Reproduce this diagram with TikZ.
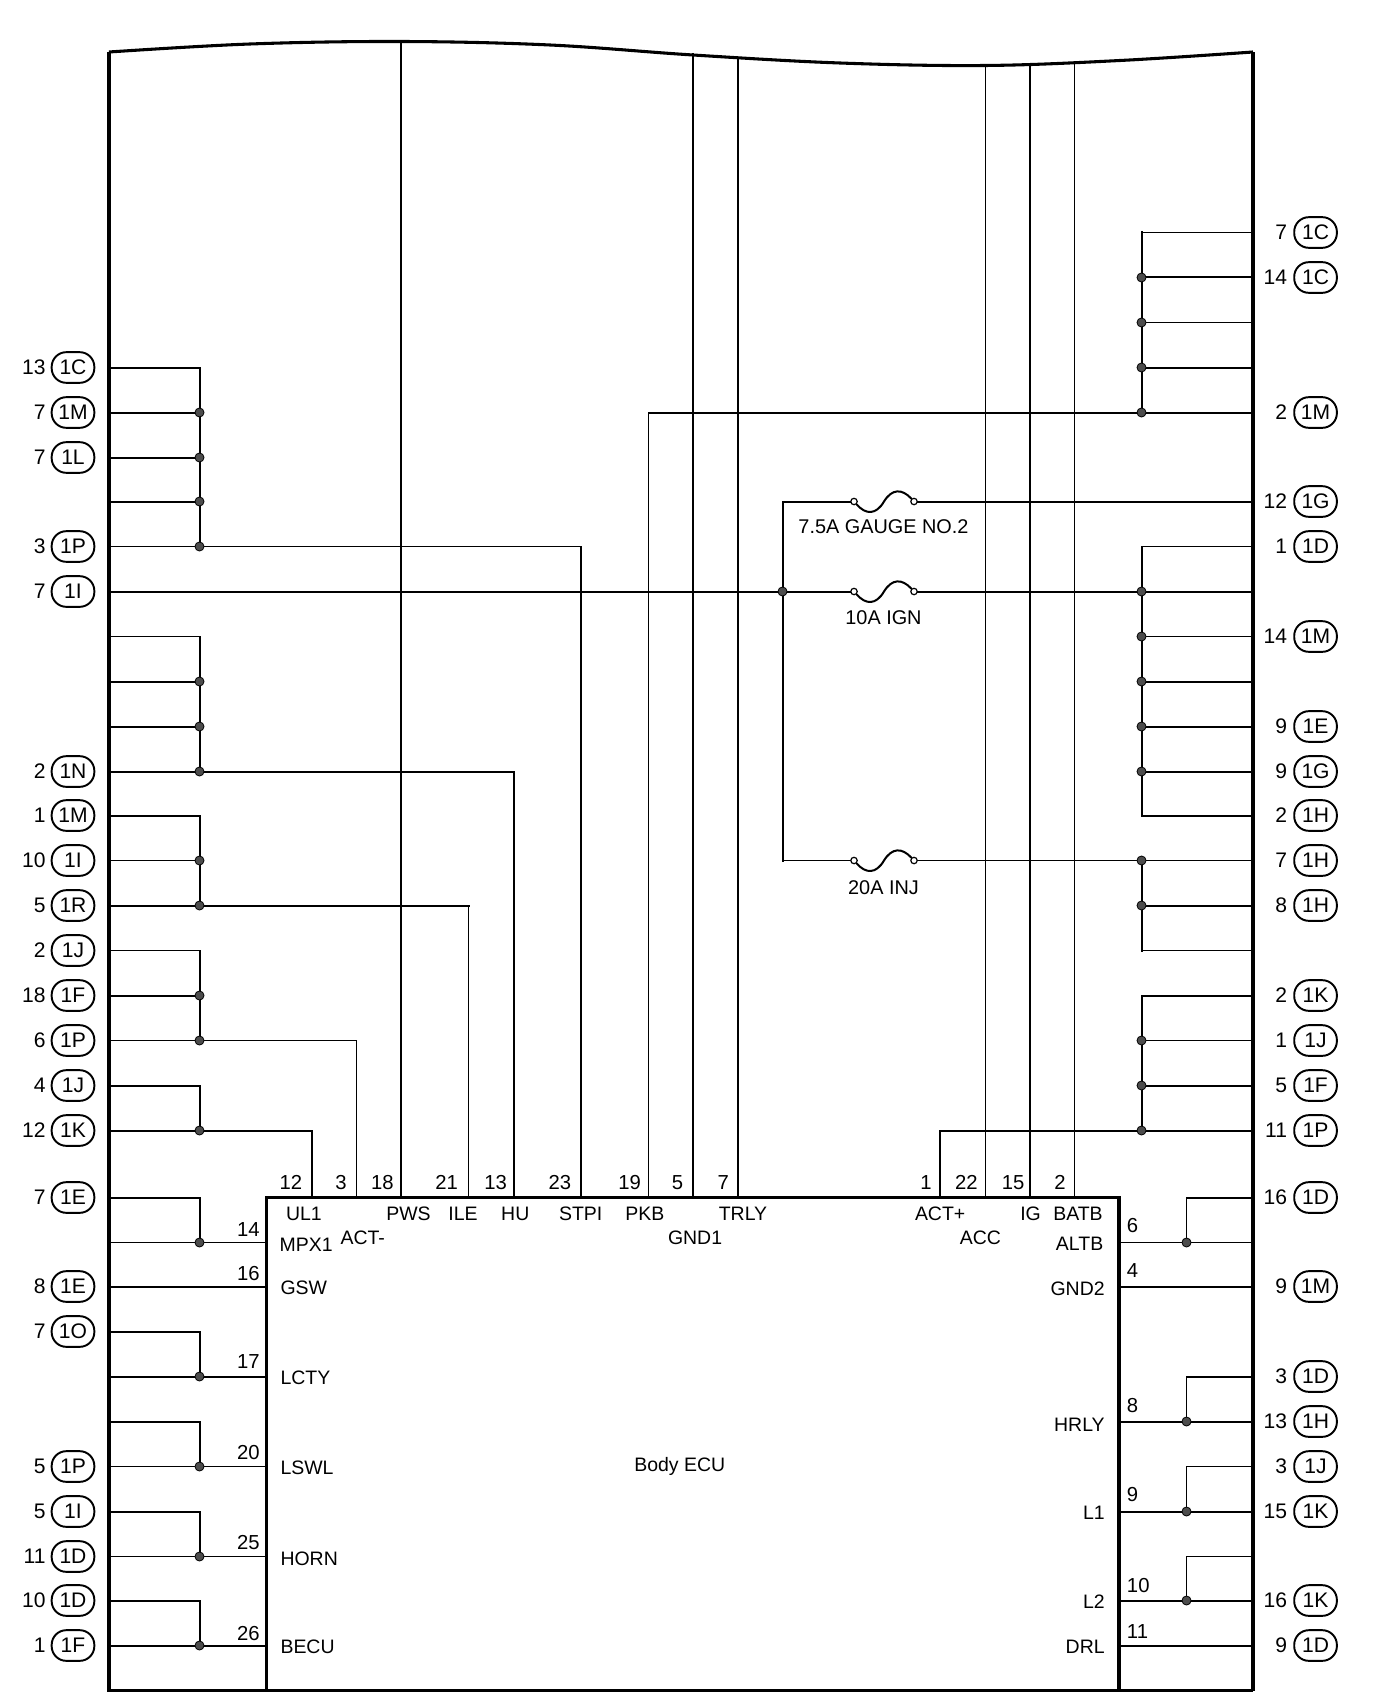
\documentclass[tikz,border=0pt]{standalone}
\usepackage{fontspec}
\setmainfont{Liberation Sans}
\tikzset{
  T/.style={line width=1.5pt,line cap=rect,line join=miter},
  Th/.style={line width=0.8pt,line cap=rect,line join=miter},
  wall/.style={line width=2.3pt,line join=miter},
  dot/.style={circle,draw=black,fill=black!70,line width=0.6pt,inner sep=0pt,minimum size=6.8pt},
  term/.style={circle,draw=black,fill=white,line width=0.9pt,inner sep=0pt,minimum size=4.8pt},
  pill/.style={draw=black,line width=1.45pt,rounded corners=11pt,inner sep=0pt,minimum width=32pt,minimum height=23pt,font=\fontsize{15.8}{17}\selectfont},
  txt/.style={inner sep=0pt,outer sep=0pt,font=\fontsize{14.6}{16}\selectfont},
  num/.style={txt,font=\fontsize{15.8}{17}\selectfont},
  pinnum/.style={txt,font=\fontsize{15.2}{17}\selectfont},
  fuselab/.style={txt,font=\fontsize{14.9}{16}\selectfont}
}
\begin{document}
\begin{tikzpicture}[x=0.75pt,y=-0.75pt]
\useasboundingbox (0,0) rectangle (1376,1708);
% row coordinates
\foreach \n in {0,...,20}{
  \pgfmathsetmacro\yy{floor(1130-44.86*(20-\n))+0.5}
  \coordinate (LU\n) at (109,\yy);
  \coordinate (JU\n) at (199.5,\yy);
  \coordinate (QU\n) at (1141.5,\yy);
  \coordinate (RU\n) at (1253,\yy);
}
\foreach \n in {0,...,11}{
  \pgfmathsetmacro\yy{floor(1690.7-44.86*(11-\n))+0.5}
  \coordinate (LD\n) at (109,\yy);
  \coordinate (JD\n) at (199.5,\yy);
  \coordinate (BL\n) at (266.7,\yy);
  \coordinate (BR\n) at (1119,\yy);
  \coordinate (VD\n) at (1186.5,\yy);
  \coordinate (RD\n) at (1253,\yy);
}
\coordinate (FJ) at (782.5,0);
% box-top pins and frame-top ends
\foreach \id/\x in {UL/312,AM/356.5,PW/401,IL/468.5,HU/514,ST/581,PK/648.5,GA/693,TR/738,AP/940,AC/985.5,IG/1030,BA/1074.5}{
  \coordinate (pin\id) at (\x,1197.5);
}
\coordinate (topPW) at (401,41.5);
\coordinate (topGA) at (693,54.5);
\coordinate (topTR) at (738,58);
\coordinate (topAC) at (985.5,65);
\coordinate (topIG) at (1030,65);
\coordinate (topBA) at (1074.5,64);
% vertical feeds
\draw[T] (topPW) -- (pinPW);
\draw[T] (topGA) -- (pinGA);
\draw[T] (topTR) -- (pinTR);
\draw[T] (topIG) -- (pinIG);
\draw[Th] (topAC) -- (pinAC);
\draw[Th] (topBA) -- (pinBA);
% left upper wires
\foreach \a/\b in {3/7,9/12,13/15,16/18,19/20}{\draw[T] (JU\a) -- (JU\b);}
\foreach \n in {3,4,5,6,10,11,13,15,17,19}{\draw[T] (LU\n) -- (JU\n);}
\foreach \n in {7,9,14,16,18}{\draw[Th] (LU\n) -- (JU\n);}
\draw[T] (LU12) -- (JU12);
\draw[T] (LU20) -- (JU20);
\draw[Th] (JU7) -| (pinST);
\draw[T] (JU12) -| (pinHU);
\draw[T] (JU15) -- (JU15 -| pinIL);
\draw[Th] (JU15 -| pinIL) -- (pinIL);
\draw[Th] (JU18) -| (pinAM);
\draw[T] (JU20) -| (pinUL);
% right upper wires
\foreach \a/\b in {0/4,7/13,14/16,17/20}{\draw[T] (QU\a) -- (QU\b);}
\foreach \n in {1,3,4,8,10,11,12,13,15,17,19,20}{\draw[T] (QU\n) -- (RU\n);}
\foreach \n in {0,2,7,9,14,16,18}{\draw[Th] (QU\n) -- (RU\n);}
\draw[T] (QU4) -- (QU4 -| pinPK);
\draw[Th] (QU4 -| pinPK) -- (pinPK);
\draw[T] (QU20) -| (pinAP);
% fuses
\foreach \n in {6,8,14}{
  \pgfmathsetmacro\yy{floor(1130-44.86*(20-\n))+0.5}
  \node[term] (Fa\n) at (854,\yy) {};
  \node[term] (Fb\n) at (914,\yy) {};
  \draw[T,line cap=round] (Fa\n) .. controls (866,\yy+13.5) and (876,\yy+13.5) .. (884,\yy) .. controls (892,\yy-13) and (902,\yy-13) .. (Fb\n);
}
\draw[T] (FJ |- LU6) -- (FJ |- LU14);
\draw[T] (FJ |- LU6) -- (Fa6);
\draw[T] (LU8) -- (Fa8);
\draw[Th] (FJ |- LU14) -- (Fa14);
\draw[T] (Fb6) -- (RU6);
\draw[T] (Fb8) -- (QU8);
\draw[Th] (Fb14) -- (QU14);
% lower left wires
\foreach \a/\b in {0/1,3/4,5/6,7/8,9/10}{\draw[T] (JD\a) -- (JD\b);}
\foreach \n in {0,3,5,7,9}{\draw[T] (LD\n) -- (JD\n);}
\foreach \n in {2,4,10}{\draw[T] (LD\n) -- (BL\n);}
\foreach \n in {1,6,8}{\draw[Th] (LD\n) -- (BL\n);}
% lower right wires
\foreach \a/\b in {0/1,4/5,6/7,8/9}{\draw[Th] (VD\a) -- (VD\b);}
\foreach \n in {2,5,7,9,10}{\draw[T] (BR\n) -- (RD\n);}
\draw[Th] (BR1) -- (RD1);
\foreach \n in {0,4}{\draw[T] (VD\n) -- (RD\n);}
\foreach \n in {6,8}{\draw[Th] (VD\n) -- (RD\n);}
% frame and box
\draw[wall] (RD11) -- (LD11) -- (109,52);
\draw[wall] (RD11) -- (1253,52);
\draw[wall] plot[smooth,tension=0.6] coordinates {(109,52) (250,44) (401,41.5) (550,45) (693,55) (840,63) (985,65.5) (1120,60.5) (1253,52)};
\draw[wall] (BL11) -- (BL0) -- (BR0) -- (BR11);
% junctions
\foreach \n in {4,5,6,7,10,11,12,14,15,17,18,20}{\node[dot] (dL\n) at (JU\n) {};}
\foreach \n in {1,2,3,4,8,9,10,11,12,14,15,18,19,20}{\node[dot] (dR\n) at (QU\n) {};}
\node[dot] (dF) at (FJ |- LU8) {};
\foreach \n in {1,4,6,8,10}{\node[dot] (dD\n) at (JD\n) {};}
\foreach \n in {1,5,7,9}{\node[dot] (dE\n) at (VD\n) {};}
% pins
\foreach \r/\v/\p in {3/13/1C,4/7/1M,5/7/1L,7/3/1P,8/7/1I,12/2/1N,13/1/1M,14/10/1I,15/5/1R,16/2/1J,17/18/1F,18/6/1P,19/4/1J,20/12/1K}{
  \node[pill] (pLU\r) at ([xshift=-27pt]LU\r) {\p};
  \node[num,anchor=east] (nLU\r) at ([xshift=-47.6pt]LU\r) {\v};
}
\foreach \r/\v/\p in {0/7/1E,2/8/1E,3/7/1O,6/5/1P,7/5/1I,8/11/1D,9/10/1D,10/1/1F}{
  \node[pill] (pLD\r) at ([xshift=-27pt]LD\r) {\p};
  \node[num,anchor=east] (nLD\r) at ([xshift=-47.6pt]LD\r) {\v};
}
\foreach \r/\v/\p in {0/7/1C,1/14/1C,4/2/1M,6/12/1G,7/1/1D,9/14/1M,11/9/1E,12/9/1G,13/2/1H,14/7/1H,15/8/1H,17/2/1K,18/1/1J,19/5/1F,20/11/1P}{
  \node[pill] (pRU\r) at ([xshift=46.9pt]RU\r) {\p};
  \node[num,anchor=east] (nRU\r) at ([xshift=25.5pt]RU\r) {\v};
}
\foreach \r/\v/\p in {0/16/1D,2/9/1M,4/3/1D,5/13/1H,6/3/1J,7/15/1K,9/16/1K,10/9/1D}{
  \node[pill] (pRD\r) at ([xshift=46.9pt]RD\r) {\p};
  \node[num,anchor=east] (nRD\r) at ([xshift=25.5pt]RD\r) {\v};
}
% texts, positions in units of the drawing's 1263-wide grid
\begin{scope}[x=0.81705pt,y=-0.81705pt]
\foreach \t/\x in {12/267,3/313,18/351,21/410,13/455,23/514,19/578,5/622,7/664,1/850,22/887,15/930,2/973}{
  \node[pinnum] (tn\x) at (\x,1085.5) {\t};
}
\foreach \id/\t/\x/\y in {a/UL1/279/1114.5,b/PWS/375/1114.5,c/ILE/425/1114.5,d/HU/473/1114.5,e/STPI/533/1114.5,f/PKB/592/1114.5,g/TRLY/682/1114.5,h/ACT+/863/1114.5,i/IG/946/1114.5,j/BATB/989.5/1114.5,k/MPX1/281/1142.5,l/ACT-/333/1136.5,m/GND1/638/1136.5,n/ACC/900/1136.5,o/ALTB/991/1141.5,p/Body ECU/624/1346.5}{
  \node[txt] (bl\id) at (\x,\y) {\t};
}
\foreach \id/\t/\y in {a/GSW/1182,b/LCTY/1265,c/LSWL/1347.5,d/HORN/1431,e/BECU/1512}{
  \node[txt,anchor=west] (ll\id) at (257.5,\y) {\t};
}
\foreach \id/\t/\y in {a/GND2/1183,b/HRLY/1308,c/L1/1389,d/L2/1470,e/DRL/1512}{
  \node[txt,anchor=east] (lr\id) at (1014,\y) {\t};
}
\foreach \t/\y in {14/1129,16/1169,17/1250,20/1333,25/1416,26/1499}{
  \node[pinnum] (sl\t) at (228,\y) {\t};
}
\foreach \t/\y in {6/1125,4/1166,8/1290,9/1372,10/1455,11/1498}{
  \node[pinnum,anchor=west] (sr\t) at (1034.5,\y) {\t};
}
\node[fuselab] (fl1) at (811,483.5) {7.5A GAUGE NO.2};
\node[fuselab] (fl2) at (811,567) {10A IGN};
\node[fuselab] (fl3) at (811,815) {20A INJ};
\end{scope}
\end{tikzpicture}
\end{document}
